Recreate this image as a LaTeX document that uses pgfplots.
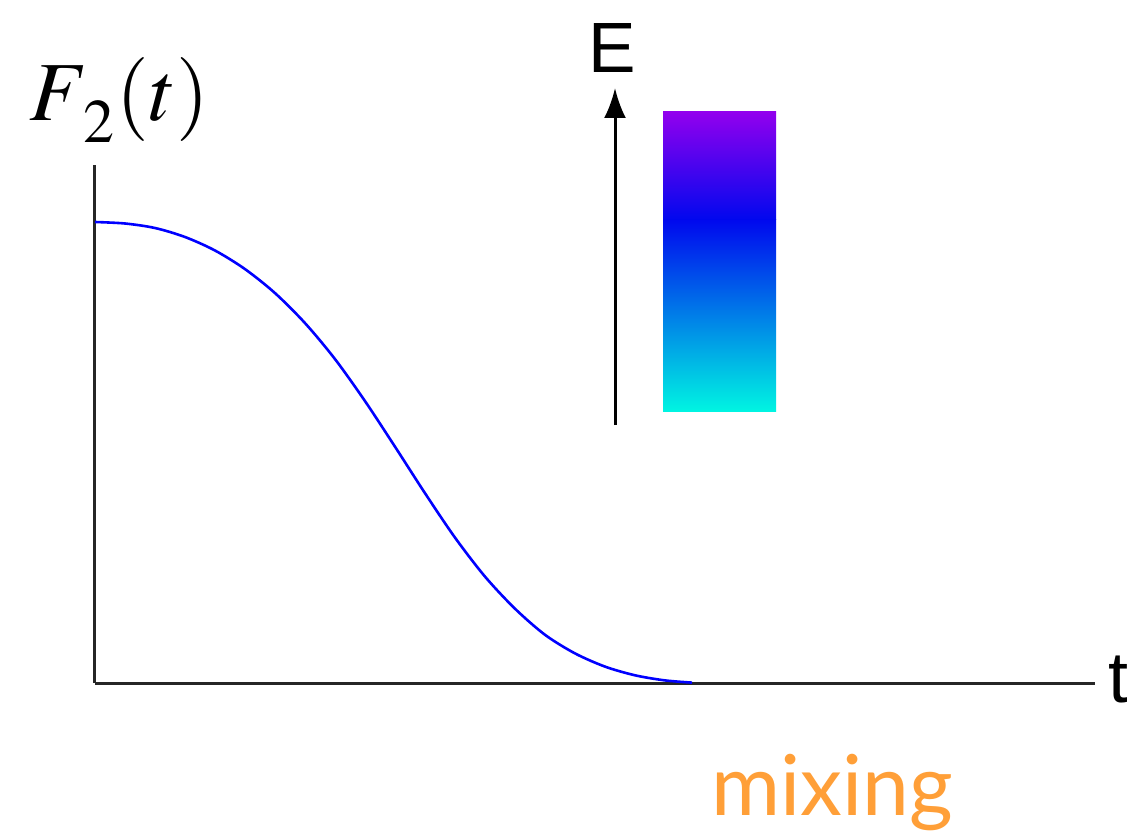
\documentclass[border=0pt]{standalone}
\usepackage{mathptmx}
\usepackage{fontspec}
\usepackage{pgfplots}
\pgfplotsset{compat=1.18}
\usetikzlibrary{arrows.meta}
\newfontfamily\arialfont{Liberation Sans}
\newfontfamily\latofont{Lato}
\definecolor{mixorange}{HTML}{FF9F38}
\definecolor{gviolet}{HTML}{9200EE}
\definecolor{gblue}{HTML}{0008EE}
\definecolor{gcyan}{HTML}{00F4E2}
\begin{document}
\begin{tikzpicture}
\begin{axis}[
  scale only axis,
  width=500pt, height=259pt,
  xmin=0, xmax=1000, ymin=0, ymax=518,
  axis x line=bottom, axis y line=left,
  axis line style={-, line width=1.5pt, color=black!85},
  xtick=\empty, ytick=\empty,
  clip=false,
]
\addplot[blue, line width=1.3pt, smooth] coordinates {
(0,461) (30,459.5) (60,455) (90,446) (120,432.5) (150,413.9) (180,389.9)
(210,359.9) (240,323.9) (270,281.9) (300,236.3) (330,189.8) (360,145.4)
(390,106.4) (420,74.3) (450,48.2) (480,29.6) (510,16.4) (540,7.7) (570,2.6) (597,0.4)
};
% gradient box
\fill[top color=gviolet, bottom color=gblue, draw=none] (axis cs:568,463) rectangle (axis cs:681,571);
\fill[top color=gblue, bottom color=gcyan, draw=none] (axis cs:568,272) rectangle (axis cs:681,463.5);
% energy arrow
\draw[line width=1.5pt, -{Latex[length=15pt,width=11pt]}] (axis cs:520,258) -- (axis cs:520,595);
\node[anchor=base, inner sep=0pt, font=\arialfont\fontsize{35.6}{40}\selectfont] at (axis cs:517,610) {E};
% labels
\node[anchor=base, inner sep=0pt, font=\fontsize{42}{46}\selectfont] at (axis cs:24,562) {$F\kern-2pt\raisebox{-11pt}{\fontsize{31}{34}\selectfont$2$}\kern1pt(t)$};
\node[anchor=base west, inner sep=0pt, font=\arialfont\fontsize{36}{40}\selectfont] at (axis cs:1013,-19) {t};
\node[anchor=base west, inner sep=0pt, text=mixorange, font=\latofont\fontsize{42}{46}\selectfont] at (axis cs:616,-132) {mixing};
\coordinate (bl) at (axis cs:-95,-147);
\coordinate (tr) at (axis cs:1032,683);
\end{axis}
\pgfresetboundingbox
\useasboundingbox (bl) rectangle (tr);
\end{tikzpicture}
\end{document}
